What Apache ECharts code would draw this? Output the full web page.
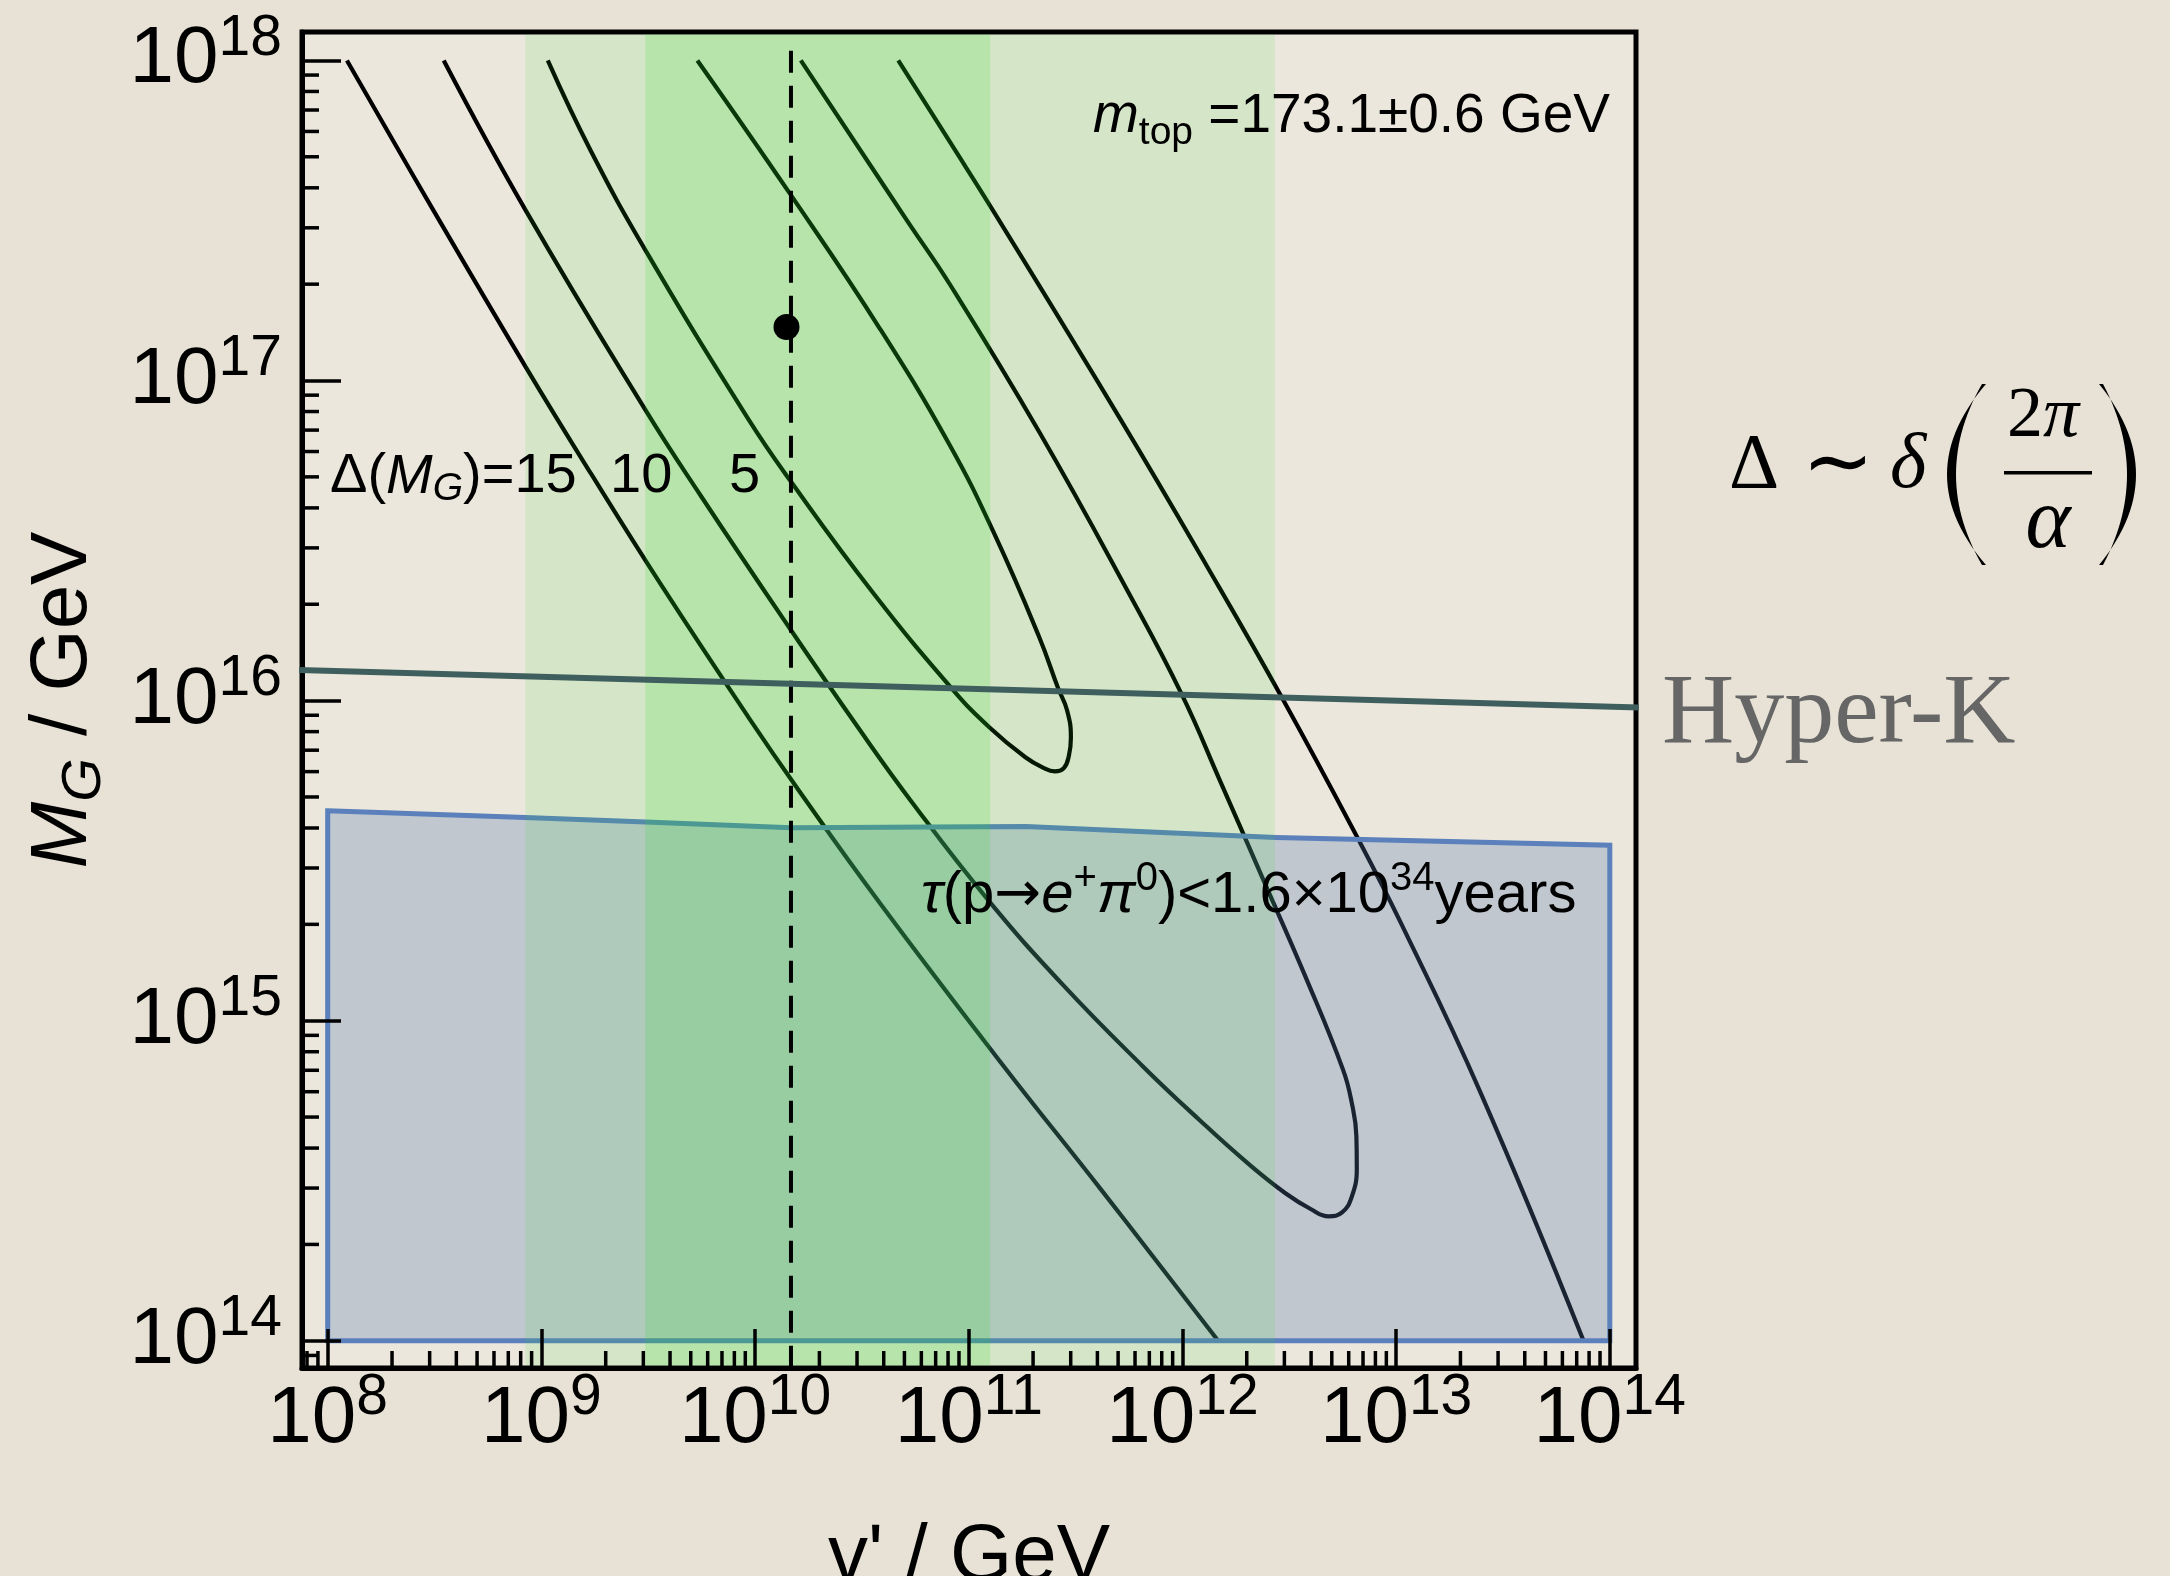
<!DOCTYPE html>
<html>
<head>
<meta charset="utf-8">
<title>Δ(M_G) contours vs v'</title>
<script src="https://cdn.jsdelivr.net/npm/echarts@6/dist/echarts.min.js"></script>
<style>
  html, body { margin: 0; padding: 0; background: #e7e2d5; }
  #chart { width: 2170px; height: 1576px; }
</style>
</head>
<body>
<div id="chart"></div>
<script>
// All coordinates below are log10 exponents: [log10(v' / GeV), log10(M_G / GeV)]

// Δ(M_G) = 15 : two open branches
const delta15Left = [[8.090,18.0],[8.490,17.537],[8.927,17.042],[9.233,16.708],[9.556,16.366],[9.970,15.947],[10.204,15.720],[10.589,15.363],[11.160,14.861],[11.622,14.470],[12.167,14.0]];
const delta15Right = [[10.670,18.0],[10.911,17.746],[11.134,17.509],[11.708,16.881],[12.112,16.423],[12.466,16.009],[12.819,15.572],[13.021,15.307],[13.394,14.777],[13.877,14.0]];

// Δ(M_G) = 10 : closed at the bottom
const delta10 = [[8.543,18.0],[8.928,17.530],[9.486,16.909],[9.742,16.644],[10.162,16.226],[10.479,15.919],[10.727,15.689],[11.092,15.376],[11.442,15.111],[11.814,14.858],[12.081,14.689],[12.312,14.551],[12.482,14.461],[12.602,14.411],[12.684,14.389],[12.747,14.401],[12.793,14.451],[12.816,14.539],[12.814,14.639],[12.792,14.745],[12.751,14.848],[12.583,15.126],[12.374,15.447],[12.175,15.751],[11.998,16.018],[11.748,16.337],[11.330,16.839],[10.912,17.300],[10.716,17.495],[10.214,18.0]];

// Δ(M_G) = 5 : closed loop above
const delta5 = [[9.030,18.0],[9.231,17.718],[9.495,17.398],[9.967,16.881],[10.166,16.686],[10.552,16.337],[10.927,16.033],[11.096,15.917],[11.265,15.823],[11.352,15.789],[11.402,15.779],[11.445,15.789],[11.469,15.829],[11.478,15.885],[11.460,15.970],[11.418,16.039],[11.330,16.198],[11.121,16.519],[10.912,16.797],[10.586,17.160],[10.168,17.579],[9.730,18.0]];

// proton-decay excluded region, τ(p→e⁺π⁰) < 1.6×10³⁴ years (upper edge)
const protonBoundTop = [[8.0,15.656],[8.925,15.635],[9.489,15.621],[10.168,15.603],[11.267,15.607],[12.437,15.572],[14.0,15.548]];
const protonBoundFloor = 14.0;

// Hyper-K reach
const hyperK = [[7.803,16.097],[14.149,15.978]];

// favoured v' ranges (outer and inner band)
const bandOuter = [8.925, 12.433];
const bandInner = [9.486, 11.100];

// benchmark v' and benchmark point
const benchmarkV = 10.168;
const benchmarkPoint = [10.147, 17.167];

// axis ranges
const xRange = [7.8797, 14.1226];
const yRange = [13.915, 18.0888];

// ---------------------------------------------------------------
const pow10 = e => Math.pow(10, e);
const toValues = arr => arr.map(p => [pow10(p[0]), pow10(p[1])]);

const FONT = '"Liberation Sans", Arial, sans-serif';
const SANS = '"Liberation Sans", Arial, Helvetica, sans-serif';
const SERIF = '"Liberation Serif", "Times New Roman", serif';
const ARROW = '"DejaVu Sans", sans-serif';

function minorValues(range) {
  const out = [];
  for (let e = Math.floor(range[0]); e <= Math.ceil(range[1]); e++) {
    for (let k = 2; k <= 9; k++) {
      const lv = e + Math.log10(k);
      if (lv > range[0] + 0.002 && lv < range[1] - 0.002) out.push(k * pow10(e));
    }
  }
  return out;
}
const xMinor = minorValues(xRange);
const yMinor = minorValues(yRange);

function powerLabel(v) {
  const e = Math.log10(v);
  const r = Math.round(e);
  if (Math.abs(e - r) > 1e-6) return '';
  return '{b|10}{s|' + r + '}';
}
const tickRich = {
  b: { fontSize: 80, fontFamily: FONT, color: '#000', lineHeight: 100 },
  s: { fontSize: 57, fontFamily: FONT, color: '#000', lineHeight: 57, verticalAlign: 'top' }
};

function curveSeries(name, pts) {
  return {
    name, type: 'line', data: toValues(pts), showSymbol: false, smooth: 0.45,
    silent: true, z: 2,
    lineStyle: { color: '#000', width: 4.2 }
  };
}

function q(p0, c, p2, t) { return (1 - t) * (1 - t) * p0 + 2 * t * (1 - t) * c + t * t * p2; }
function parenPoints(xEnd, yTop, yBot, cOuter, cInner, endIn) {
  const ym = (yTop + yBot) / 2, pts = [];
  for (let i = 0; i <= 30; i++) { const t = i / 30; pts.push([q(xEnd, cOuter, xEnd, t), q(yTop, ym, yBot, t)]); }
  for (let i = 30; i >= 0; i--) { const t = i / 30; pts.push([q(xEnd + endIn, cInner, xEnd + endIn, t), q(yTop, ym, yBot, t)]); }
  return pts;
}

const chart = echarts.init(document.getElementById('chart'), null, { renderer: 'canvas', width: 2170, height: 1576 });

const option = {
  animation: false,
  backgroundColor: '#e7e2d5',
  grid: {
    left: 302, top: 32, width: 1334, height: 1336,
    show: true, borderColor: '#000', borderWidth: 5, backgroundColor: '#ebe7dc',
    containLabel: false, outerBoundsMode: 'none'
  },
  xAxis: {
    type: 'log', logBase: 10, min: pow10(xRange[0]), max: pow10(xRange[1]), z: 6,
    axisLine: { show: true, lineStyle: { color: '#000', width: 5 } },
    axisTick: { show: true, inside: true, length: 39, lineStyle: { color: '#000', width: 3.5 } },
    minorTick: { show: false }, splitLine: { show: false },
    axisLabel: { formatter: powerLabel, rich: tickRich, margin: 2, hideOverlap: false, interval: 0 },
    name: "v' / GeV", nameLocation: 'middle', nameGap: 150,
    nameTextStyle: { fontSize: 80, fontFamily: SANS, color: '#000' }
  },
  yAxis: {
    type: 'log', logBase: 10, min: pow10(yRange[0]), max: pow10(yRange[1]), z: 6,
    axisLine: { show: true, lineStyle: { color: '#000', width: 5 } },
    axisTick: { show: true, inside: true, length: 39, lineStyle: { color: '#000', width: 3.5 } },
    minorTick: { show: false }, splitLine: { show: false },
    axisLabel: { formatter: powerLabel, rich: tickRich, margin: 20, hideOverlap: false, interval: 0 },
    name: '{i|M}{sub|G}{n| / GeV}', nameLocation: 'middle', nameGap: 190, nameRotate: 90,
    nameTextStyle: {
      fontSize: 80, fontFamily: SANS, color: '#000',
      rich: {
        i: { fontSize: 80, fontFamily: SANS, fontStyle: 'italic', color: '#000', lineHeight: 96 },
        sub: { fontSize: 56, fontFamily: SANS, fontStyle: 'italic', color: '#000', lineHeight: 48, verticalAlign: 'bottom' },
        n: { fontSize: 80, fontFamily: SANS, color: '#000', lineHeight: 96 }
      }
    }
  },
  series: [
    curveSeries('Δ=15 left', delta15Left),
    curveSeries('Δ=15 right', delta15Right),
    curveSeries('Δ=10', delta10),
    curveSeries('Δ=5', delta5),
    {
      // proton decay bound
      type: 'custom', silent: true, z: 3, clip: true,
      data: toValues(protonBoundTop),
      renderItem(params, api) {
        if (params.dataIndex !== 0) return null;
        const pts = protonBoundTop.map(p => api.coord([pow10(p[0]), pow10(p[1])]));
        const last = protonBoundTop[protonBoundTop.length - 1];
        pts.push(api.coord([pow10(last[0]), pow10(protonBoundFloor)]));
        pts.push(api.coord([pow10(protonBoundTop[0][0]), pow10(protonBoundFloor)]));
        return {
          type: 'polygon', shape: { points: pts },
          style: { fill: 'rgba(86,120,172,0.29)', stroke: '#5b80bb', lineWidth: 5, lineJoin: 'miter' }
        };
      }
    },
    {
      // v' bands
      type: 'custom', silent: true, z: 4, clip: true,
      data: [[pow10(bandOuter[0]), pow10(bandOuter[1]), 1e16, 0.11], [pow10(bandInner[0]), pow10(bandInner[1]), 1e16, 0.17]],
      encode: { x: [0, 1], y: 2 },
      renderItem(params, api) {
        const cs = params.coordSys;
        const a = api.coord([api.value(0), api.value(2)]);
        const b = api.coord([api.value(1), api.value(2)]);
        return {
          type: 'rect',
          shape: { x: a[0], y: cs.y + 2.5, width: b[0] - a[0], height: cs.height - 5 },
          style: { fill: 'rgba(38,223,38,' + api.value(3) + ')' }
        };
      }
    },
    {
      // benchmark v'
      type: 'line', silent: true, z: 5, showSymbol: false,
      data: [[pow10(benchmarkV), pow10(18.03)], [pow10(benchmarkV), pow10(yRange[0])]],
      lineStyle: { color: '#000', width: 4, type: [22, 13] }
    },
    {
      type: 'scatter', silent: true, z: 5, symbol: 'circle', symbolSize: 26,
      data: [[pow10(benchmarkPoint[0]), pow10(benchmarkPoint[1])]],
      itemStyle: { color: '#000', opacity: 1 }
    },
    {
      // Hyper-K
      type: 'line', silent: true, z: 7, showSymbol: false, clip: false,
      data: toValues(hyperK),
      lineStyle: { color: '#3e5f5d', width: 6 }
    },
    {
      // minor ticks, x
      type: 'custom', silent: true, z: 6, clip: false,
      data: xMinor.map(v => [v, 1e16]), encode: { x: 0, y: 1 },
      renderItem(params, api) {
        const cs = params.coordSys;
        const p = api.coord([api.value(0), api.value(1)]);
        const yb = cs.y + cs.height;
        return { type: 'line', shape: { x1: p[0], y1: yb, x2: p[0], y2: yb - 17 }, style: { stroke: '#000', lineWidth: 3.5 } };
      }
    },
    {
      // minor ticks, y
      type: 'custom', silent: true, z: 6, clip: false,
      data: yMinor.map(v => [1e10, v]), encode: { x: 0, y: 1 },
      renderItem(params, api) {
        const cs = params.coordSys;
        const p = api.coord([api.value(0), api.value(1)]);
        return { type: 'line', shape: { x1: cs.x, y1: p[1], x2: cs.x + 17, y2: p[1] }, style: { stroke: '#000', lineWidth: 3.5 } };
      }
    }
  ],
  graphic: [
    {
      type: 'text', z: 50, x: 1093, y: 117,
      style: {
        text: '{i|m}{sub|top}{n| =173.1±0.6 GeV}', align: 'left', verticalAlign: 'middle',
        rich: {
          i: { fontSize: 55, fontFamily: SANS, fontStyle: 'italic', fill: '#000', lineHeight: 72 },
          sub: { fontSize: 39, fontFamily: SANS, fill: '#000', lineHeight: 36, verticalAlign: 'bottom' },
          n: { fontSize: 55, fontFamily: SANS, fill: '#000', lineHeight: 72 }
        }
      }
    },
    {
      type: 'text', z: 50, x: 330, y: 477,
      style: {
        text: '{n|Δ(}{i|M}{sub|G}{n|)=15}', align: 'left', verticalAlign: 'middle',
        rich: {
          i: { fontSize: 56, fontFamily: SANS, fontStyle: 'italic', fill: '#000', lineHeight: 64 },
          sub: { fontSize: 39, fontFamily: SANS, fontStyle: 'italic', fill: '#000', lineHeight: 40, verticalAlign: 'bottom' },
          n: { fontSize: 56, fontFamily: SANS, fill: '#000', lineHeight: 64 }
        }
      }
    },
    { type: 'text', z: 50, x: 610, y: 477, style: { text: '10', fontSize: 56, fontFamily: SANS, fill: '#000', align: 'left', verticalAlign: 'middle' } },
    { type: 'text', z: 50, x: 729, y: 477, style: { text: '5', fontSize: 56, fontFamily: SANS, fill: '#000', align: 'left', verticalAlign: 'middle' } },
    {
      type: 'text', z: 50, x: 921, y: 896,
      style: {
        text: '{i|τ}{n|(p}{a|→}{i|e}{sup|+}{i|π}{sup|0}{n|)<1.6×10}{sup|34}{n|years}', align: 'left', verticalAlign: 'middle',
        rich: {
          i: { fontSize: 58, fontFamily: SANS, fontStyle: 'italic', fill: '#000', lineHeight: 74 },
          a: { fontSize: 56, fontFamily: ARROW, fill: '#000', lineHeight: 74 },
          sup: { fontSize: 40, fontFamily: SANS, fill: '#000', lineHeight: 38, verticalAlign: 'top' },
          n: { fontSize: 58, fontFamily: SANS, fill: '#000', lineHeight: 74 }
        }
      }
    },
    { type: 'text', z: 50, x: 1662, y: 716, style: { text: 'Hyper-K', fontSize: 100, fontFamily: SERIF, fill: '#666666', align: 'left', verticalAlign: 'middle' } },
    // Δ ∼ δ (2π/α)
    { type: 'text', z: 50, x: 1729, y: 467, style: { text: 'Δ', fontSize: 78, fontFamily: SERIF, fill: '#000', align: 'left', verticalAlign: 'middle' } },
    { type: 'text', z: 50, x: 1838, y: 467, style: { text: '∼', fontSize: 86, fontFamily: SERIF, fill: '#000', align: 'center', verticalAlign: 'middle' } },
    { type: 'text', z: 50, x: 1890, y: 466, style: { text: 'δ', fontSize: 78, fontFamily: SERIF, fontStyle: 'italic', fill: '#000', align: 'left', verticalAlign: 'middle' } },
    { type: 'polygon', z: 50, shape: { points: parenPoints(1986, 384, 565, 1908, 1930, -4) }, style: { fill: '#000' } },
    { type: 'polygon', z: 50, shape: { points: parenPoints(2099, 384, 565, 2173, 2151, 4) }, style: { fill: '#000' } },
    {
      type: 'text', z: 50, x: 2043, y: 417,
      style: {
        text: '{n|2}{i|π}', align: 'center', verticalAlign: 'middle',
        rich: {
          n: { fontSize: 72, fontFamily: SERIF, fill: '#000' },
          i: { fontSize: 72, fontFamily: SERIF, fontStyle: 'italic', fill: '#000' }
        }
      }
    },
    { type: 'rect', z: 50, shape: { x: 2004, y: 471, width: 88, height: 3.5 }, style: { fill: '#000' } },
    { type: 'text', z: 50, x: 2048, y: 524, style: { text: 'α', fontSize: 86, fontFamily: SERIF, fontStyle: 'italic', fill: '#000', align: 'center', verticalAlign: 'middle' } }
  ]
};

chart.setOption(option);
</script>
</body>
</html>
